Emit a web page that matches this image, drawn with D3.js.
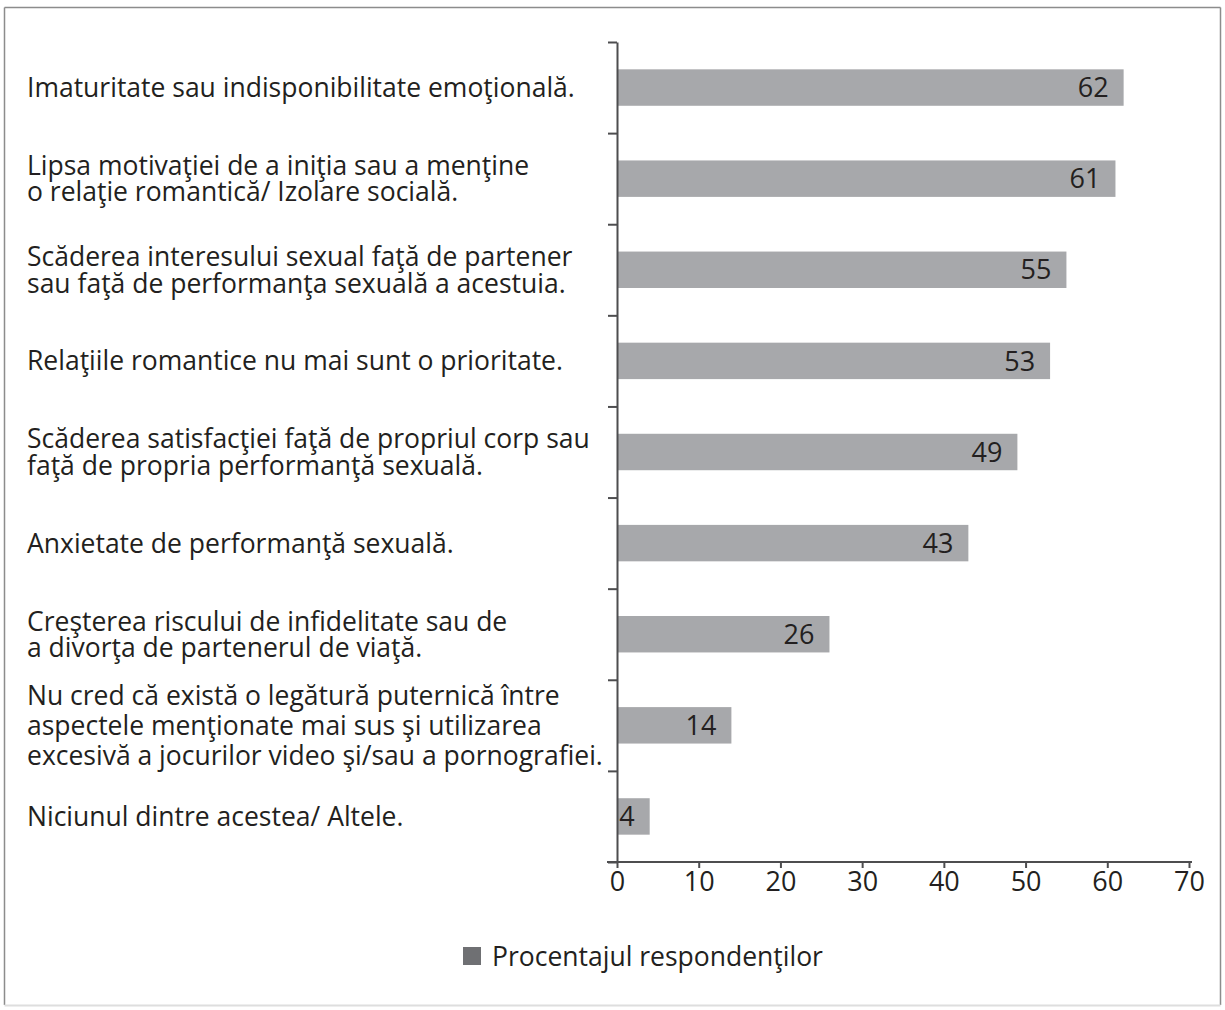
<!DOCTYPE html>
<html>
<head>
<meta charset="utf-8">
<script src="https://cdn.jsdelivr.net/npm/d3@7"></script>
<style>
  html, body { margin: 0; padding: 0; background: #ffffff; }
  svg { display: block; }
  text { font-family: "Open Sans", "Noto Sans", sans-serif; fill: #231f20; }
</style>
</head>
<body>
<svg id="chart" width="1225" height="1010"></svg>
<script>
// Categories (top to bottom), each split into its printed lines
const categories = [
  ["Imaturitate sau indisponibilitate emoţională."],
  ["Lipsa motivaţiei de a iniţia sau a menţine", "o relaţie romantică/ Izolare socială."],
  ["Scăderea interesului sexual faţă de partener", "sau faţă de performanţa sexuală a acestuia."],
  ["Relaţiile romantice nu mai sunt o prioritate."],
  ["Scăderea satisfacţiei faţă de propriul corp sau", "faţă de propria performanţă sexuală."],
  ["Anxietate de performanţă sexuală."],
  ["Creşterea riscului de infidelitate sau de", "a divorţa de partenerul de viaţă."],
  ["Nu cred că există o legătură puternică între", "aspectele menţionate mai sus şi utilizarea", "excesivă a jocurilor video şi/sau a pornografiei."],
  ["Niciunul dintre acestea/ Altele."]
];
const values = [62, 61, 55, 53, 49, 43, 26, 14, 4];
const xTicks = [0, 10, 20, 30, 40, 50, 60, 70];
const seriesName = "Procentajul respondenţilor";

const W = 1225, H = 1010;
const margin = { top: 42, left: 617, right: 36, bottom: 148 };
const barColor = "#a7a8ab";
const legendColor = "#6f7073";
const axisColor = "#4d4d4f";
const labelSize = 26.5;
const numberSize = 27;

const svg = d3.select("#chart");

// outer frame
const frame = svg.append("g");
frame.append("line").attr("x1", 4.5).attr("x2", 1220.5).attr("y1", 7.5).attr("y2", 7.5).attr("stroke", "#8c8c8c").attr("stroke-width", 1.5);
frame.append("line").attr("x1", 4.5).attr("x2", 4.5).attr("y1", 7.5).attr("y2", 1005).attr("stroke", "#8c8c8c").attr("stroke-width", 1.5);
frame.append("line").attr("x1", 1220.5).attr("x2", 1220.5).attr("y1", 7.5).attr("y2", 1005).attr("stroke", "#8c8c8c").attr("stroke-width", 1.5);
frame.append("line").attr("x1", 4.5).attr("x2", 1220.5).attr("y1", 1005.5).attr("y2", 1005.5).attr("stroke", "#dedede").attr("stroke-width", 2);

const x = d3.scaleLinear()
  .domain([0, 70])
  .range([margin.left, W - margin.right]);

const y = d3.scaleBand()
  .domain(d3.range(categories.length))
  .range([margin.top, H - margin.bottom])
  .paddingInner(0.6)
  .paddingOuter(0.3);

// band boundaries for the category axis ticks
const yEdges = d3.scaleLinear()
  .domain([0, categories.length])
  .range([margin.top, H - margin.bottom]);

// bars
svg.append("g").selectAll("rect")
  .data(values)
  .join("rect")
  .attr("x", x(0))
  .attr("y", (d, i) => y(i))
  .attr("width", d => x(d) - x(0))
  .attr("height", y.bandwidth())
  .attr("fill", barColor);

// value labels inside bars
svg.append("g").selectAll("text")
  .data(values)
  .join("text")
  .attr("x", d => x(d) - 15)
  .attr("y", (d, i) => y(i) + y.bandwidth() / 2)
  .attr("dy", "0.36em")
  .attr("text-anchor", "end")
  .attr("font-size", numberSize)
  .text(d => d);

// category axis (left)
const yAxis = svg.append("g")
  .attr("transform", `translate(${x(0)},0)`)
  .call(d3.axisLeft(yEdges).tickValues(d3.range(categories.length + 1)).tickFormat("").tickSize(9).tickSizeOuter(0));
yAxis.select(".domain").attr("stroke", axisColor).attr("stroke-width", 2);
yAxis.selectAll(".tick line").attr("stroke", axisColor).attr("stroke-width", 2);

// value axis (bottom)
const xAxis = svg.append("g")
  .attr("transform", `translate(0,${H - margin.bottom})`)
  .call(d3.axisBottom(x).tickValues(xTicks).tickSize(6).tickSizeOuter(0).tickPadding(4));
xAxis.select(".domain")
  .attr("d", `M${x(0) - 10},0H${x(70) + 3}`)
  .attr("stroke", axisColor).attr("stroke-width", 2);
xAxis.selectAll(".tick line").attr("stroke", axisColor).attr("stroke-width", 2);
xAxis.selectAll(".tick text")
  .attr("font-family", "'Open Sans', 'Noto Sans', sans-serif")
  .attr("font-size", numberSize)
  .attr("fill", "#231f20");

// category labels
const lineGap = n => (n >= 3 ? 30 : 26.5);
const labels = svg.append("g");
categories.forEach((lines, i) => {
  const cy = y(i) + y.bandwidth() / 2;
  const gap = lineGap(lines.length);
  const t = labels.append("text")
    .attr("x", 27)
    .attr("font-size", labelSize);
  lines.forEach((ln, j) => {
    t.append("tspan")
      .attr("x", 27)
      .attr("y", cy + (j - (lines.length - 1) / 2) * gap)
      .attr("dy", "0.36em")
      .text(ln);
  });
});

// legend
const legend = svg.append("g").attr("transform", `translate(463,956)`);
legend.append("rect").attr("x", 0).attr("y", -9).attr("width", 18).attr("height", 18).attr("fill", legendColor);
legend.append("text").attr("x", 29).attr("y", 0).attr("dy", "0.36em").attr("font-size", labelSize).text(seriesName);
</script>
</body>
</html>
